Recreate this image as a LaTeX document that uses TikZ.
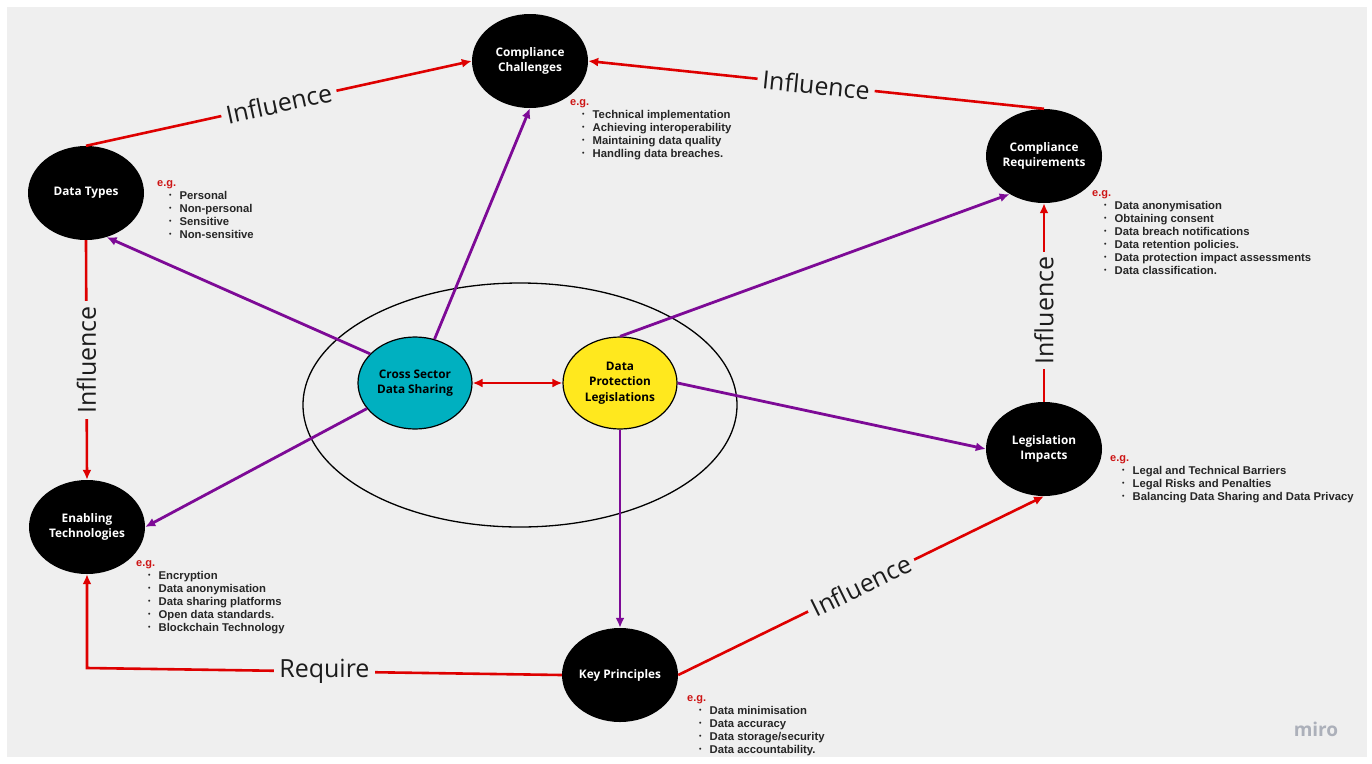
\documentclass[tikz,border=0pt]{standalone}
\usepackage{fontspec}
\setmainfont{Liberation Sans}
\newfontfamily\opensans{Open Sans}
\usetikzlibrary{arrows.meta,shapes.geometric}

\definecolor{paper}{RGB}{239,239,239}
\definecolor{linkred}{RGB}{222,0,0}
\definecolor{linkpurple}{RGB}{125,10,150}
\definecolor{egred}{RGB}{205,20,20}
\definecolor{itemgray}{RGB}{38,38,38}
\definecolor{taggray}{RGB}{28,28,28}
\definecolor{cyanfill}{RGB}{0,176,192}
\definecolor{yellowfill}{RGB}{255,232,30}
\definecolor{mirogray}{RGB}{172,176,186}

% small bullet used in the example lists
\newcommand\dotmark{\raisebox{1.2pt}{\scalebox{0.62}{\textbullet}}}

% e.g. heading followed by a bulleted list of examples
\newcommand\examplelist[4]{%
  \node[eg] (#1-eg) at (#2,#3) {e.g.};
  \foreach \t [count=\i] in {#4}
    \node[item] (#1-\i) at ({#2+12},{#3+\i*13}) {\dotmark\hspace{8pt}\t};
}

\begin{document}
\begin{tikzpicture}[x=1pt,y=-1pt,
  blob/.style={ellipse, fill=black, minimum width=116pt, minimum height=94pt,
    inner sep=0pt, label={[blobtext]center:#1}},
  blobtext/.style={text=white, align=center,
    font=\opensans\bfseries\fontsize{11.8}{15.5}\selectfont},
  core/.style={ellipse, draw=black, line width=1.2pt, minimum width=114pt,
    minimum height=92pt, inner sep=0pt, align=center, text=black,
    font=\opensans\bfseries\fontsize{11.8}{15.5}\selectfont},
  ring/.style={ellipse, draw=black, line width=1.3pt, minimum width=434pt,
    minimum height=244pt, inner sep=0pt},
  redlink/.style={draw=linkred, line width=2.6pt, -{Latex[length=10pt,width=9pt]}},
  purplelink/.style={draw=linkpurple, line width=2.8pt, -{Latex[length=10pt,width=9pt]}},
  tag/.style={fill=paper, inner sep=5pt, text=taggray,
    font=\opensans\fontsize{25}{25}\selectfont},
  eg/.style={anchor=base west, inner sep=0pt, text=egred,
    font=\bfseries\fontsize{11}{11}\selectfont},
  item/.style={anchor=base west, inner sep=0pt, text=itemgray,
    font=\bfseries\fontsize{11.3}{13}\selectfont},
]
\useasboundingbox (0,0) rectangle (1372,763);
\fill[white] (0,0) rectangle (1372,763);
\fill[paper] (7,7) rectangle (1367,757);

% enclosing ellipse round the two core concepts
\node[ring] (ring) at (520,405) {};

% outer concepts
\node[blob={Compliance\\Challenges}] (CC) at (530,61) {};
\node[blob={Compliance\\Requirements}] (CR) at (1044,156) {};
\node[blob={Data Types}] (DT) at (86,193) {};
\node[blob={Enabling\\Technologies}] (ET) at (87,527) {};
\node[blob={Legislation\\Impacts}] (LI) at (1044,449) {};
\node[blob={Key Principles}] (KP) at (620,675) {};

% core concepts
\node[core, fill=cyanfill] (CS) at (415,383) {Cross Sector\\Data Sharing};
\node[core, fill=yellowfill] (DP) at (620,383) {Data\\Protection\\Legislations};

% red relations
\draw[redlink] (DT.north) -- node[tag, rotate=12.3] (t1) {Influence} (CC.west);
\draw[redlink] (CR.north) -- node[tag, rotate=-5.8] (t2) {Influence} (CC.east);
\draw[redlink] (DT.south) -- node[tag, rotate=90] (t3) {Influence} (ET.north);
\draw[redlink] (LI.north) -- node[tag, rotate=90, pos=0.46] (t4) {Influence} (CR.south);
\coordinate (corner) at (87,668);
\draw[redlink] (KP.west) -- node[tag] (t5) {Require} (corner) -- (ET.south);
\draw[redlink] (KP.east) -- node[tag, rotate=26.2] (t6) {Influence} (LI.south);
\draw[redlink, {Latex[length=10pt,width=9pt]}-{Latex[length=10pt,width=9pt]}]
  (CS.east) -- (DP.west);

% purple relations
\draw[purplelink] (CS.147) -- (DT.-65);
\draw[purplelink] (CS.66) -- (CC.south);
\draw[purplelink] (CS.208) -- (ET.east);
\draw[purplelink] (DP.north) -- (CR.228);
\draw[purplelink] (DP.east) -- (LI.west);
\draw[purplelink] (DP.south) -- (KP.north);

% example lists
\examplelist{cc}{570}{105}{Technical implementation,Achieving interoperability,Maintaining data quality,Handling data breaches.}
\examplelist{cr}{1092}{196}{Data anonymisation,Obtaining consent,Data breach notifications,Data retention policies.,Data protection impact assessments,Data classification.}
\examplelist{dt}{157}{186}{Personal,Non-personal,Sensitive,Non-sensitive}
\examplelist{et}{136}{566}{Encryption,Data anonymisation,Data sharing platforms,Open data standards.,Blockchain Technology}
\examplelist{li}{1110}{461}{Legal and Technical Barriers,Legal Risks and Penalties,Balancing Data Sharing and Data Privacy}
\examplelist{kp}{687}{701}{Data minimisation,Data accuracy,Data storage/security,Data accountability.}

\node[text=mirogray, font=\opensans\bfseries\fontsize{19}{19}\selectfont] (miro) at (1316,729) {miro};
\end{tikzpicture}
\end{document}
